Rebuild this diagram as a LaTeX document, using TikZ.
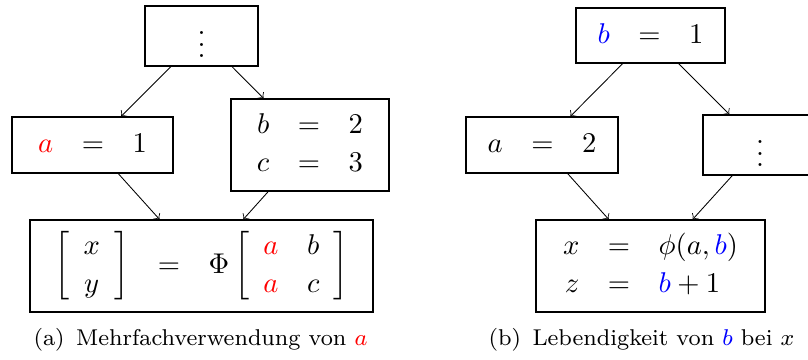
\documentclass[tikz,border=0pt]{standalone}
\begin{document}
\renewcommand{\arraystretch}{1.1}
\begin{tikzpicture}[x=0.35pt,y=-0.35pt,
  box/.style={draw, line width=0.45pt, inner sep=0pt, anchor=center},
  arr/.style={->, line width=0.3pt},
  capt/.style={inner sep=0pt, font=\fontsize{8}{10}\selectfont}]
\useasboundingbox (0,0) rectangle (808,360);
\clip (0,0) rectangle (808,360);
% (a)
\node[box, minimum width=39.55pt, minimum height=21pt] (L1) at (201.5,36) {$\vdots$};
\node[box, minimum width=56.35pt, minimum height=19.6pt] (L2) at (92.5,145)
  {$\begin{array}{rcl}{\color{red}a} & = & 1\end{array}$};
\node[box, minimum width=55.3pt, minimum height=32.2pt] (L3) at (310,145)
  {$\begin{array}{rcl}b & = & 2\\ c & = & 3\end{array}$};
\node[box, minimum width=120.05pt, minimum height=32.2pt] (L4) at (201.5,266)
  {$\begin{array}{rcl}\left[\begin{array}{c}x\\ y\end{array}\right] & = &
   \Phi\left[\begin{array}{cc}{\color{red}a} & b\\ {\color{red}a} & c\end{array}\right]\end{array}$};
\draw[arr] (L1) -- (L2);
\draw[arr] (L1) -- (L3);
\draw[arr] (L2) -- (L4);
\draw[arr] (L3) -- (L4);
\node[capt] (capA) at (200.5,340) {(a)\enspace Mehrfachverwendung von ${\color{red}a}$};
% (b)
\node[box, minimum width=52.15pt, minimum height=19.25pt] (R1) at (650.5,35.5)
  {$\begin{array}{rcl}{\color{blue}b} & = & 1\end{array}$};
\node[box, minimum width=53.2pt, minimum height=19.6pt] (R2) at (542,145)
  {$\begin{array}{rcl}a & = & 2\end{array}$};
\node[box, minimum width=39.9pt, minimum height=21pt] (R3) at (760,145) {$\vdots$};
\node[box, minimum width=80.15pt, minimum height=32.2pt] (R4) at (650.5,266)
  {$\begin{array}{rcl}x & = & \phi(a,{\color{blue}b})\\ z & = & {\color{blue}b}+1\end{array}$};
\draw[arr] (R1) -- (R2);
\draw[arr] (R1) -- (R3);
\draw[arr] (R2) -- (R4);
\draw[arr] (R3) -- (R4);
\node[capt] (capB) at (641.5,340) {(b)\enspace Lebendigkeit von ${\color{blue}b}$ bei $x$};
\end{tikzpicture}
\end{document}
